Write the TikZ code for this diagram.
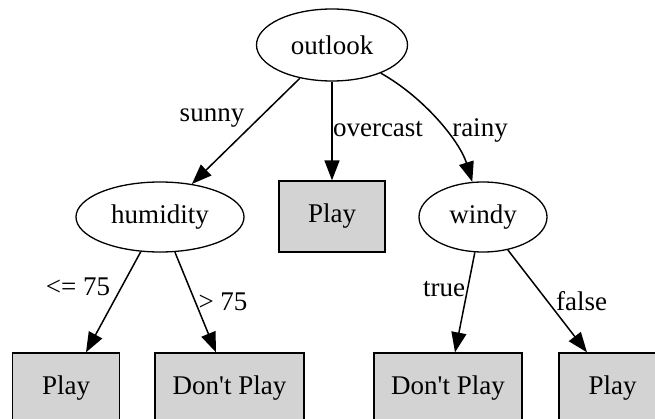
\documentclass[tikz,border=0pt]{standalone}
\usepackage{fontspec}
\setmainfont{Liberation Serif}
\usetikzlibrary{shapes.geometric,arrows.meta}
\definecolor{leafgray}{RGB}{211,211,211}
\begin{document}
\begin{tikzpicture}[x=1pt,y=-1pt,
  every node/.style={font=\fontsize{27}{30}\selectfont},
  ell/.style={draw,ellipse,line width=1.3pt,inner sep=0pt},
  leaf/.style={draw,rectangle,fill=leafgray,line width=1.3pt,inner sep=0pt},
  conn/.style={line width=1.5pt,-{Triangle[length=20pt,width=15pt]}},
  lab/.style={anchor=base,inner sep=0pt}]
\useasboundingbox (0,0) rectangle (655,419);
\clip (0,0) rectangle (655,419);
\node[ell,minimum width=151pt,minimum height=72pt] (outlook) at (332,45) {outlook};
\node[ell,minimum width=168pt,minimum height=70pt] (humidity) at (160,217) {humidity};
\node[leaf,minimum width=106pt,minimum height=71pt] (p0) at (332,216.5) {Play};
\node[ell,minimum width=128pt,minimum height=70pt] (windy) at (483,217) {windy};
\node[leaf,minimum width=107pt,minimum height=71pt] (l1) at (66,388.5) {Play};
\node[leaf,minimum width=149pt,minimum height=71pt] (l2) at (229.5,388.5) {Don\textquotesingle t Play};
\node[leaf,minimum width=148pt,minimum height=71pt] (l3) at (448,388.5) {Don\textquotesingle t Play};
\node[leaf,minimum width=107pt,minimum height=71pt] (l4) at (612.5,388.5) {Play};
\draw[conn] (outlook.226) -- (humidity.46);
\draw[conn] (outlook.south) -- (p0.north);
\draw[conn] (outlook.330) .. controls (425,98) and (460,142) .. (windy.107);
\draw[conn] (humidity.241) -- ([xshift=20pt]l1.north);
\draw[conn] (humidity.293) -- ([xshift=-13.5pt]l2.north);
\draw[conn] (windy.257) -- ([xshift=7pt]l3.north);
\draw[conn] (windy.307) -- ([xshift=-25.5pt]l4.north);
\node[lab] (ls) at (212,122) {sunny};
\node[lab] (lo) at (378,137) {overcast};
\node[lab] (lr) at (480,137) {rainy};
\node[lab] (lle) at (78,295) {<= 75};
\node[lab] (lgt) at (223,310) {> 75};
\node[lab] (lt) at (444,296) {true};
\node[lab] (lf) at (581.5,310) {false};
\end{tikzpicture}
\end{document}
